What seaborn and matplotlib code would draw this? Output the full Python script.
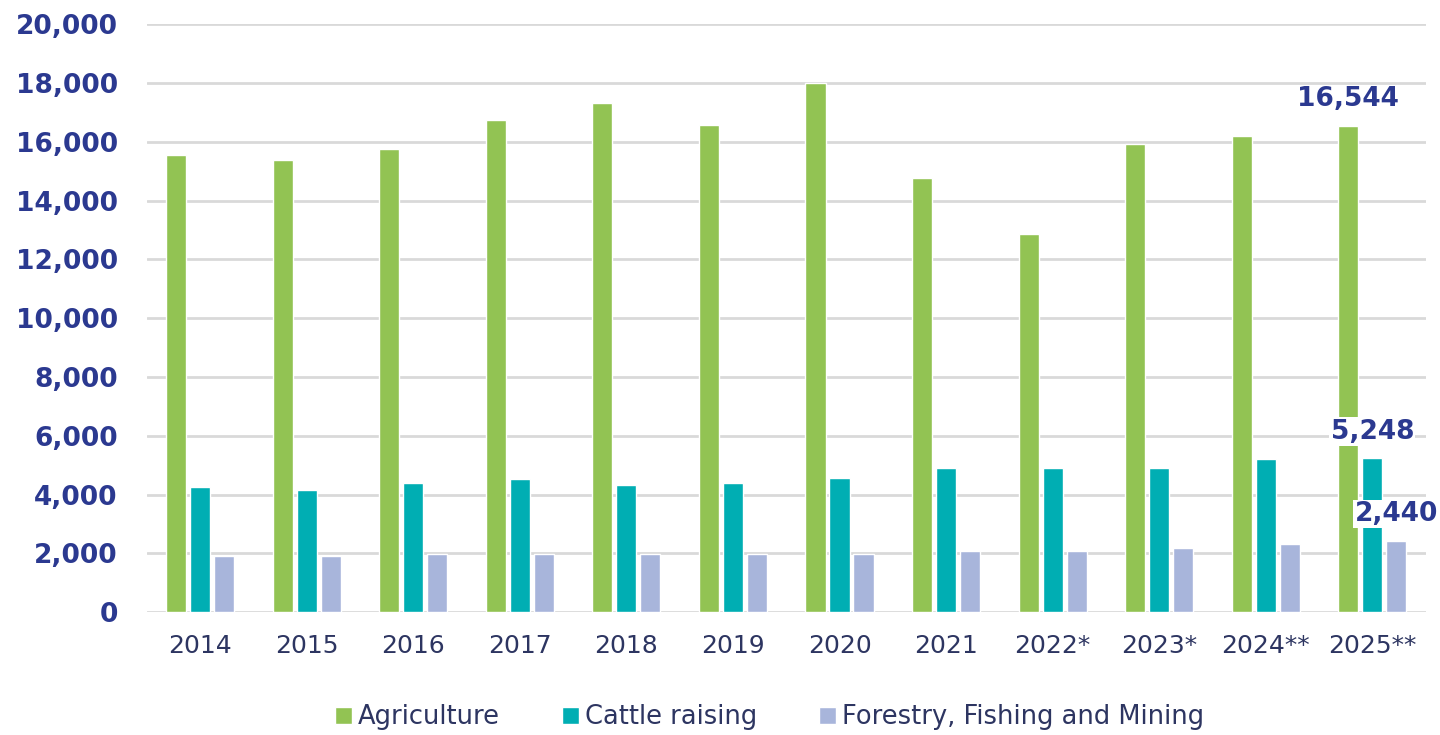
import pandas as pd
import matplotlib.pyplot as plt
import seaborn as sns


# DATA

years = ["2014", "2015", "2016", "2017", "2018", "2019",
         "2020", "2021", "2022*", "2023*", "2024**", "2025**"]
agriculture = [15550, 15390, 15760, 16740, 17320, 16570,
               18000, 14780, 12880, 15930, 16200, 16544]
cattle = [4270, 4170, 4400, 4540, 4340, 4400,
          4580, 4900, 4900, 4900, 5220, 5248]
forestry = [1900, 1900, 1970, 1970, 1970, 1970,
            1970, 2080, 2080, 2200, 2330, 2440]
series_names = ["Agriculture", "Cattle raising", "Forestry, Fishing and Mining"]
colors = ["#92C353", "#00AEB3", "#A8B5DB"]
y_ticks = list(range(0, 20001, 2000))

navy = "#2B3990"
text_dark = "#2D3561"

# long format for seaborn
rows = []
for name, vals in zip(series_names, [agriculture, cattle, forestry]):
    for y, v in zip(years, vals):
        rows.append({"year": y, "value": v, "series": name})
df = pd.DataFrame(rows)

sns.set_theme(style="white")
plt.rcParams["font.family"] = ["DejaVu Sans"]

fig = plt.figure(figsize=(14.4, 7.35), dpi=100)
ax = fig.add_axes([0.102, 0.167, 0.888, 0.8])

sns.barplot(data=df, x="year", y="value", hue="series", order=years,
            hue_order=series_names, palette=colors, width=0.675, gap=0.16,
            saturation=1, ax=ax, legend=True)

ax.set_ylim(0, 20000)
ax.set_xlim(-0.5, len(years) - 0.5)
ax.set_yticks(y_ticks)
ax.set_yticklabels([f"{t:,}" for t in y_ticks], fontsize=19,
                   fontweight="bold", color=navy)
ax.tick_params(axis="x", labelsize=18, labelcolor=text_dark, pad=16, length=0)
ax.tick_params(axis="y", pad=21, length=0)
ax.set_xlabel("")
ax.set_ylabel("")

# gridlines
ax.grid(axis="y", color="#D9D9D9", linewidth=2)
ax.set_axisbelow(True)
for s in ax.spines.values():
    s.set_visible(False)

# labels for the last year
for cont in ax.containers:
    bar = cont.patches[-1]
    ax.annotate(f"{bar.get_height():,.0f}",
                xy=(bar.get_x() + bar.get_width() / 2, bar.get_height()),
                xytext=(0, 19), textcoords="offset points",
                ha="center", va="center", fontsize=19, fontweight="bold",
                color=navy,
                bbox=dict(boxstyle="square,pad=0.05", fc="white", ec="none"))

# legend at bottom
handles, labels = ax.get_legend_handles_labels()
ax.legend(handles, labels, loc="lower center", bbox_to_anchor=(0.487, -0.205),
          ncol=3, frameon=False, fontsize=18.5, handlelength=0.65,
          handleheight=0.65, handletextpad=0.25, columnspacing=2.4,
          labelcolor=text_dark, borderaxespad=0, borderpad=0.1)

fig.savefig("out.png", dpi=100)
